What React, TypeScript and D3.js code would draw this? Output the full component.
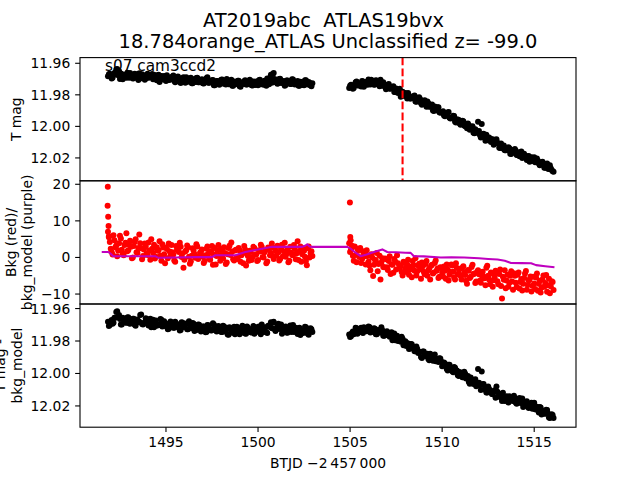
import React from 'react';
import * as d3 from 'd3';

// ---- data ----
// cadence set A
const leftTimes = [
  1491.85, 1491.95, 1492.05, 1492.15, 1492.25, 1492.35, 1492.45, 1492.55, 1492.65, 1492.75,
  1492.85, 1492.95, 1493.05, 1493.15, 1493.25, 1493.35, 1493.45, 1493.55, 1493.65, 1493.75,
  1493.85, 1493.95, 1494.05, 1494.15, 1494.25, 1494.35, 1494.45, 1494.55, 1494.65, 1494.75,
  1494.85, 1494.95, 1495.05, 1495.15, 1495.25, 1495.35, 1495.45, 1495.55, 1495.65, 1495.75,
  1495.85, 1495.95, 1496.05, 1496.15, 1496.25, 1496.35, 1496.45, 1496.55, 1496.65, 1496.75,
  1496.85, 1496.95, 1497.05, 1497.15, 1497.25, 1497.35, 1497.45, 1497.55, 1497.65, 1497.75,
  1497.85, 1497.95, 1498.05, 1498.15, 1498.25, 1498.35, 1498.45, 1498.55, 1498.65, 1498.75,
  1498.85, 1498.95, 1499.05, 1499.15, 1499.25, 1499.35, 1499.45, 1499.55, 1499.65, 1499.75,
  1499.85, 1499.95, 1500.05, 1500.15, 1500.25, 1500.35, 1500.45, 1500.55, 1500.65, 1500.75,
  1500.85, 1500.95, 1501.05, 1501.15, 1501.25, 1501.35, 1501.45, 1501.55, 1501.65, 1501.75,
  1501.85, 1501.95, 1502.05, 1502.15, 1502.25, 1502.35, 1502.45, 1502.55, 1502.65, 1502.75,
  1502.85, 1502.95,
];
const rightTimes = [
  1504.95, 1505.05, 1505.15, 1505.25, 1505.35, 1505.45, 1505.55, 1505.65, 1505.75, 1505.85,
  1505.95, 1506.05, 1506.15, 1506.25, 1506.35, 1506.45, 1506.55, 1506.65, 1506.75, 1506.85,
  1506.95, 1507.05, 1507.15, 1507.25, 1507.35, 1507.45, 1507.55, 1507.65, 1507.75, 1507.85,
  1507.95, 1508.05, 1508.15, 1508.25, 1508.35, 1508.45, 1508.55, 1508.65, 1508.75, 1508.85,
  1508.95, 1509.05, 1509.15, 1509.25, 1509.35, 1509.45, 1509.55, 1509.65, 1509.75, 1509.85,
  1509.95, 1510.05, 1510.15, 1510.25, 1510.35, 1510.45, 1510.55, 1510.65, 1510.75, 1510.85,
  1510.95, 1511.05, 1511.15, 1511.25, 1511.35, 1511.45, 1511.55, 1511.65, 1511.75, 1511.85,
  1511.95, 1512.05, 1512.15, 1512.25, 1512.35, 1512.45, 1512.55, 1512.65, 1512.75, 1512.85,
  1512.95, 1513.05, 1513.15, 1513.25, 1513.35, 1513.45, 1513.55, 1513.65, 1513.75, 1513.85,
  1513.95, 1514.05, 1514.15, 1514.25, 1514.35, 1514.45, 1514.55, 1514.65, 1514.75, 1514.85,
  1514.95, 1515.05, 1515.15, 1515.25, 1515.35, 1515.45, 1515.55, 1515.65, 1515.75, 1515.85,
  1515.95, 1516.05,
];
// cadence set B
const leftTimesB = [
  1491.9, 1492.0, 1492.1, 1492.2, 1492.3, 1492.4, 1492.5, 1492.6, 1492.7, 1492.8,
  1492.9, 1493.0, 1493.1, 1493.2, 1493.3, 1493.4, 1493.5, 1493.6, 1493.7, 1493.8,
  1493.9, 1494.0, 1494.1, 1494.2, 1494.3, 1494.4, 1494.5, 1494.6, 1494.7, 1494.8,
  1494.9, 1495.0, 1495.1, 1495.2, 1495.3, 1495.4, 1495.5, 1495.6, 1495.7, 1495.8,
  1495.9, 1496.0, 1496.1, 1496.2, 1496.3, 1496.4, 1496.5, 1496.6, 1496.7, 1496.8,
  1496.9, 1497.0, 1497.1, 1497.2, 1497.3, 1497.4, 1497.5, 1497.6, 1497.7, 1497.8,
  1497.9, 1498.0, 1498.1, 1498.2, 1498.3, 1498.4, 1498.5, 1498.6, 1498.7, 1498.8,
  1498.9, 1499.0, 1499.1, 1499.2, 1499.3, 1499.4, 1499.5, 1499.6, 1499.7, 1499.8,
  1499.9, 1500.0, 1500.1, 1500.2, 1500.3, 1500.4, 1500.5, 1500.6, 1500.7, 1500.8,
  1500.9, 1501.0, 1501.1, 1501.2, 1501.3, 1501.4, 1501.5, 1501.6, 1501.7, 1501.8,
  1501.9, 1502.0, 1502.1, 1502.2, 1502.3, 1502.4, 1502.5, 1502.6, 1502.7, 1502.8,
  1502.9,
];
const rightTimesB = [
  1505.0, 1505.1, 1505.2, 1505.3, 1505.4, 1505.5, 1505.6, 1505.7, 1505.8, 1505.9,
  1506.0, 1506.1, 1506.2, 1506.3, 1506.4, 1506.5, 1506.6, 1506.7, 1506.8, 1506.9,
  1507.0, 1507.1, 1507.2, 1507.3, 1507.4, 1507.5, 1507.6, 1507.7, 1507.8, 1507.9,
  1508.0, 1508.1, 1508.2, 1508.3, 1508.4, 1508.5, 1508.6, 1508.7, 1508.8, 1508.9,
  1509.0, 1509.1, 1509.2, 1509.3, 1509.4, 1509.5, 1509.6, 1509.7, 1509.8, 1509.9,
  1510.0, 1510.1, 1510.2, 1510.3, 1510.4, 1510.5, 1510.6, 1510.7, 1510.8, 1510.9,
  1511.0, 1511.1, 1511.2, 1511.3, 1511.4, 1511.5, 1511.6, 1511.7, 1511.8, 1511.9,
  1512.0, 1512.1, 1512.2, 1512.3, 1512.4, 1512.5, 1512.6, 1512.7, 1512.8, 1512.9,
  1513.0, 1513.1, 1513.2, 1513.3, 1513.4, 1513.5, 1513.6, 1513.7, 1513.8, 1513.9,
  1514.0, 1514.1, 1514.2, 1514.3, 1514.4, 1514.5, 1514.6, 1514.7, 1514.8, 1514.9,
  1515.0, 1515.1, 1515.2, 1515.3, 1515.4, 1515.5, 1515.6, 1515.7, 1515.8, 1515.9,
  1516.0,
];

// panel 1: T mag
const magLeft = [
  11.9683, 11.9666, 11.9696, 11.9675, 11.9658, 11.9636, 11.9650, 11.9665, 11.9702, 11.9673,
  11.9692, 11.9679, 11.9662, 11.9686, 11.9695, 11.9670, 11.9683, 11.9663, 11.9695, 11.9680,
  11.9705, 11.9672, 11.9692, 11.9683, 11.9668, 11.9699, 11.9687, 11.9686, 11.9719, 11.9681,
  11.9703, 11.9691, 11.9676, 11.9706, 11.9699, 11.9684, 11.9712, 11.9699, 11.9684, 11.9718,
  11.9705, 11.9689, 11.9724, 11.9697, 11.9711, 11.9692, 11.9726, 11.9710, 11.9694, 11.9721,
  11.9715, 11.9702, 11.9728, 11.9707, 11.9689, 11.9724, 11.9713, 11.9706, 11.9740, 11.9713,
  11.9731, 11.9717, 11.9703, 11.9728, 11.9734, 11.9708, 11.9724, 11.9705, 11.9743, 11.9719,
  11.9732, 11.9710, 11.9748, 11.9724, 11.9714, 11.9735, 11.9727, 11.9705, 11.9739, 11.9716,
  11.9737, 11.9720, 11.9708, 11.9733, 11.9729, 11.9711, 11.9743, 11.9711, 11.9692, 11.9724,
  11.9662, 11.9719, 11.9730, 11.9699, 11.9723, 11.9713, 11.9742, 11.9709, 11.9717, 11.9732,
  11.9702, 11.9728, 11.9728, 11.9712, 11.9743, 11.9721, 11.9737, 11.9707, 11.9731, 11.9718,
  11.9741, 11.9726,
];
const magLeftB = [
  11.9670, 11.9681, 11.9692, 11.9661, 11.9640, 11.9676, 11.9699, 11.9669, 11.9680, 11.9689,
  11.9660, 11.9692, 11.9675, 11.9696, 11.9667, 11.9682, 11.9706, 11.9678, 11.9670, 11.9693,
  11.9696, 11.9666, 11.9689, 11.9684, 11.9702, 11.9675, 11.9708, 11.9673, 11.9700, 11.9696,
  11.9681, 11.9713, 11.9689, 11.9705, 11.9692, 11.9677, 11.9720, 11.9712, 11.9693, 11.9725,
  11.9696, 11.9708, 11.9689, 11.9717, 11.9701, 11.9727, 11.9701, 11.9718, 11.9691, 11.9721,
  11.9712, 11.9726, 11.9704, 11.9695, 11.9723, 11.9717, 11.9707, 11.9739, 11.9718, 11.9713,
  11.9736, 11.9705, 11.9728, 11.9722, 11.9700, 11.9733, 11.9719, 11.9743, 11.9715, 11.9729,
  11.9711, 11.9746, 11.9722, 11.9732, 11.9707, 11.9735, 11.9725, 11.9712, 11.9741, 11.9719,
  11.9715, 11.9739, 11.9705, 11.9730, 11.9736, 11.9723, 11.9697, 11.9733, 11.9672, 11.9668,
  11.9700, 11.9722, 11.9727, 11.9698, 11.9725, 11.9716, 11.9738, 11.9709, 11.9720, 11.9731,
  11.9703, 11.9734, 11.9721, 11.9743, 11.9717, 11.9729, 11.9740, 11.9707, 11.9735, 11.9724,
  11.9746,
];
const magRight = [
  11.9757, 11.9736, 11.9762, 11.9737, 11.9716, 11.9741, 11.9729, 11.9712, 11.9748, 11.9718,
  11.9736, 11.9722, 11.9704, 11.9727, 11.9735, 11.9710, 11.9725, 11.9705, 11.9743, 11.9733,
  11.9764, 11.9736, 11.9761, 11.9756, 11.9746, 11.9782, 11.9775, 11.9771, 11.9812, 11.9781,
  11.9808, 11.9800, 11.9789, 11.9823, 11.9820, 11.9809, 11.9843, 11.9826, 11.9816, 11.9854,
  11.9846, 11.9835, 11.9875, 11.9853, 11.9874, 11.9862, 11.9903, 11.9887, 11.9878, 11.9911,
  11.9911, 11.9904, 11.9936, 11.9921, 11.9909, 11.9950, 11.9944, 11.9935, 11.9976, 11.9956,
  11.9981, 11.9974, 11.9967, 11.9999, 12.0012, 11.9993, 12.0016, 11.9999, 12.0044, 12.0027,
  11.9970, 12.0054, 11.9985, 12.0046, 12.0091, 12.0074, 12.0071, 12.0099, 12.0098, 12.0084,
  12.0082, 12.0109, 12.0137, 12.0127, 12.0122, 12.0152, 12.0152, 12.0139, 12.0175, 12.0159,
  12.0144, 12.0181, 12.0165, 12.0185, 12.0201, 12.0174, 12.0196, 12.0190, 12.0224, 12.0196,
  12.0208, 12.0228, 12.0203, 12.0235, 12.0235, 12.0225, 12.0263, 12.0247, 12.0269, 12.0246,
  12.0276, 12.0288,
];
const magRightB = [
  11.9742, 11.9749, 11.9756, 11.9721, 11.9740, 11.9728, 11.9747, 11.9715, 11.9725, 11.9733,
  11.9703, 11.9734, 11.9716, 11.9736, 11.9707, 11.9723, 11.9745, 11.9723, 11.9720, 11.9749,
  11.9757, 11.9732, 11.9760, 11.9759, 11.9782, 11.9760, 11.9789, 11.9762, 11.9796, 11.9798,
  11.9788, 11.9824, 11.9804, 11.9824, 11.9815, 11.9805, 11.9844, 11.9841, 11.9827, 11.9863,
  11.9839, 11.9856, 11.9842, 11.9876, 11.9867, 11.9900, 11.9874, 11.9898, 11.9878, 11.9914,
  11.9911, 11.9931, 11.9915, 11.9912, 11.9946, 11.9945, 11.9933, 11.9971, 11.9957, 11.9959,
  11.9989, 11.9965, 11.9995, 11.9996, 11.9981, 12.0021, 12.0009, 12.0040, 12.0019, 12.0040,
  12.0029, 12.0071, 12.0054, 12.0071, 12.0053, 12.0088, 12.0086, 12.0080, 12.0116, 12.0101,
  12.0104, 12.0135, 12.0108, 12.0140, 12.0152, 12.0144, 12.0133, 12.0174, 12.0150, 12.0166,
  12.0154, 12.0181, 12.0190, 12.0159, 12.0191, 12.0186, 12.0213, 12.0188, 12.0204, 12.0220,
  12.0196, 12.0225, 12.0218, 12.0246, 12.0227, 12.0245, 12.0263, 12.0236, 12.0270, 12.0266,
  12.0284,
];

// panel 3: T mag - bkg_model
const magCorrLeft = [
  11.9682, 11.9701, 11.9671, 11.9688, 11.9657, 11.9617, 11.9640, 11.9698, 11.9657, 11.9678,
  11.9687, 11.9654, 11.9693, 11.9673, 11.9663, 11.9706, 11.9668, 11.9681, 11.9636, 11.9699,
  11.9685, 11.9665, 11.9704, 11.9663, 11.9687, 11.9715, 11.9673, 11.9697, 11.9702, 11.9669,
  11.9685, 11.9707, 11.9695, 11.9725, 11.9680, 11.9708, 11.9718, 11.9691, 11.9704, 11.9735,
  11.9685, 11.9714, 11.9697, 11.9728, 11.9679, 11.9710, 11.9689, 11.9738, 11.9730, 11.9698,
  11.9716, 11.9734, 11.9711, 11.9746, 11.9702, 11.9721, 11.9736, 11.9690, 11.9713, 11.9741,
  11.9707, 11.9724, 11.9745, 11.9710, 11.9730, 11.9760, 11.9716, 11.9741, 11.9723, 11.9758,
  11.9712, 11.9733, 11.9750, 11.9706, 11.9725, 11.9755, 11.9719, 11.9738, 11.9747, 11.9708,
  11.9728, 11.9743, 11.9710, 11.9759, 11.9716, 11.9731, 11.9746, 11.9706, 11.9710, 11.9722,
  11.9682, 11.9739, 11.9706, 11.9726, 11.9699, 11.9732, 11.9715, 11.9748, 11.9736, 11.9705,
  11.9727, 11.9744, 11.9719, 11.9757, 11.9718, 11.9739, 11.9750, 11.9712, 11.9734, 11.9761,
  11.9722, 11.9745,
];
const magCorrLeftB = [
  11.9708, 11.9679, 11.9693, 11.9657, 11.9622, 11.9650, 11.9664, 11.9698, 11.9669, 11.9686,
  11.9655, 11.9691, 11.9677, 11.9663, 11.9700, 11.9672, 11.9684, 11.9640, 11.9695, 11.9689,
  11.9660, 11.9694, 11.9680, 11.9716, 11.9669, 11.9689, 11.9706, 11.9698, 11.9665, 11.9710,
  11.9678, 11.9698, 11.9727, 11.9689, 11.9706, 11.9718, 11.9682, 11.9714, 11.9701, 11.9732,
  11.9687, 11.9710, 11.9692, 11.9728, 11.9697, 11.9722, 11.9694, 11.9723, 11.9730, 11.9700,
  11.9741, 11.9711, 11.9717, 11.9745, 11.9703, 11.9727, 11.9734, 11.9698, 11.9710, 11.9738,
  11.9720, 11.9745, 11.9706, 11.9741, 11.9719, 11.9762, 11.9728, 11.9749, 11.9712, 11.9737,
  11.9721, 11.9759, 11.9717, 11.9742, 11.9753, 11.9710, 11.9729, 11.9746, 11.9725, 11.9756,
  11.9715, 11.9729, 11.9735, 11.9699, 11.9745, 11.9715, 11.9750, 11.9712, 11.9685, 11.9688,
  11.9727, 11.9723, 11.9693, 11.9719, 11.9755, 11.9731, 11.9711, 11.9749, 11.9721, 11.9744,
  11.9702, 11.9740, 11.9728, 11.9724, 11.9763, 11.9735, 11.9746, 11.9716, 11.9756, 11.9742,
  11.9728,
];
const magCorrRight = [
  11.9760, 11.9770, 11.9742, 11.9750, 11.9721, 11.9746, 11.9725, 11.9746, 11.9715, 11.9732,
  11.9739, 11.9714, 11.9745, 11.9731, 11.9724, 11.9758, 11.9732, 11.9746, 11.9733, 11.9768,
  11.9761, 11.9750, 11.9774, 11.9746, 11.9770, 11.9795, 11.9767, 11.9792, 11.9804, 11.9786,
  11.9805, 11.9830, 11.9816, 11.9846, 11.9820, 11.9848, 11.9863, 11.9850, 11.9867, 11.9898,
  11.9865, 11.9891, 11.9883, 11.9911, 11.9878, 11.9906, 11.9894, 11.9925, 11.9923, 11.9906,
  11.9927, 11.9949, 11.9938, 11.9973, 11.9946, 11.9969, 11.9987, 11.9960, 11.9984, 12.0011,
  11.9991, 12.0011, 12.0023, 12.0002, 12.0024, 12.0053, 12.0025, 12.0051, 12.0044, 12.0078,
  11.9972, 12.0072, 11.9988, 12.0065, 12.0087, 12.0117, 12.0095, 12.0115, 12.0128, 12.0104,
  12.0081, 12.0142, 12.0126, 12.0169, 12.0142, 12.0155, 12.0169, 12.0141, 12.0158, 12.0169,
  12.0151, 12.0187, 12.0164, 12.0182, 12.0154, 12.0184, 12.0175, 12.0205, 12.0200, 12.0181,
  12.0202, 12.0220, 12.0205, 12.0240, 12.0209, 12.0232, 12.0246, 12.0223, 12.0247, 12.0274,
  12.0251, 12.0274,
];
const magCorrRightB = [
  11.9775, 11.9750, 11.9759, 11.9718, 11.9756, 11.9737, 11.9718, 11.9751, 11.9723, 11.9740,
  11.9710, 11.9747, 11.9734, 11.9721, 11.9759, 11.9733, 11.9748, 11.9716, 11.9767, 11.9765,
  11.9740, 11.9765, 11.9755, 11.9796, 11.9753, 11.9777, 11.9800, 11.9799, 11.9774, 11.9826,
  11.9801, 11.9814, 11.9850, 11.9819, 11.9844, 11.9863, 11.9834, 11.9874, 11.9868, 11.9905,
  11.9864, 11.9892, 11.9878, 11.9919, 11.9892, 11.9921, 11.9883, 11.9916, 11.9929, 11.9907,
  11.9955, 11.9933, 11.9946, 11.9982, 11.9947, 11.9979, 11.9993, 11.9964, 11.9982, 12.0016,
  12.0005, 12.0023, 11.9990, 12.0031, 12.0015, 12.0064, 12.0037, 12.0065, 12.0035, 12.0066,
  12.0057, 12.0102, 12.0067, 12.0099, 12.0117, 12.0080, 12.0105, 12.0127, 12.0112, 12.0149,
  12.0113, 12.0138, 12.0150, 12.0119, 12.0169, 12.0141, 12.0179, 12.0158, 12.0166, 12.0138,
  12.0180, 12.0178, 12.0151, 12.0165, 12.0206, 12.0186, 12.0171, 12.0213, 12.0190, 12.0217,
  12.0180, 12.0222, 12.0215, 12.0207, 12.0253, 12.0231, 12.0248, 12.0225, 12.0271, 12.0264,
  12.0256,
];

// panel 2: background (red)
const bkgLeft = [
  7.0,
  4.2, 1.5, 6.1, 2.8, 0.3, 3.9, 5.2, 1.1, 3.4, 6.6,
  2.0, 4.6, -0.2, 3.1, 5.0, 1.2, 6.3, 2.5, 0.4, 3.8,
  1.0, 4.1, -0.6, 2.4, 3.5, 0.2, 1.8, 4.4, -0.9, 2.7,
  -1.6, 2.3, 3.8, 0.5, 1.4, -0.8, 3.1, 1.9, 4.0, 0.1,
  -2.8, 1.6, 3.3, 0.2, -1.1, 2.5, 0.9, 3.6, -0.4, 1.3,
  2.2, -1.5, 0.6, 3.0, -0.3, 1.7, -2.0, 2.6, 0.4, 3.4,
  -0.9, 1.5, 2.8, -1.8, 0.9, 3.2, 4.1, -0.5, 1.9, 0.0,
  2.6, -1.2, 1.1, 3.1, -2.2, 0.4, 1.8, -0.7, 2.9, 0.8,
  -1.0, 2.0, 3.5, 0.1, 1.4, -1.6, 2.7, 0.6, 3.8, -0.4,
  1.8, 3.2, -0.8, 2.4, 0.3, 4.0, 1.0, -1.3, 2.9, 0.7,
  3.4, -0.5, 4.4, 1.6, -1.2, 2.5, 0.2, -2.1, 3.0, 1.2, 0.4,
];
const bkgLeftB = [
  5.5, 2.4, 0.8, 4.7, 3.3, 1.9, 5.9, 2.1, 0.6, 4.0,
  1.7, 3.5, 2.9, 0.0, 4.3, 1.4, 2.6, 3.9, -0.5, 2.2,
  3.0, 0.7, 1.9, 5.0, 1.2, -0.3, 2.8, 2.0, 0.5, 3.6,
  0.9, 2.7, -0.2, 1.6, 3.4, 0.8, -1.2, 2.2, 1.5, 2.9,
  1.1, -0.6, 2.0, 2.8, -1.7, 0.5, 1.8, -0.1, 3.0, 0.3,
  1.5, 0.2, -1.0, 2.4, 1.0, -0.6, 3.1, 0.8, -1.9, 1.9,
  0.5, 2.3, -0.3, 1.2, -1.4, 2.6, 0.7, 1.6, -0.8, 2.1,
  -0.4, 1.9, 0.6, -1.6, 2.2, 1.0, -0.9, 1.5, 0.1, 2.6,
  0.8, -0.7, 1.6, 2.9, 0.0, 1.9, -1.1, 2.3, 1.2, 0.4,
  2.6, 0.5, 1.4, -0.4, 3.5, 1.7, 0.2, 2.1, -0.9, 1.3,
  0.6, 2.3, 1.1, -0.7, 3.0, 0.9, 1.8, -1.0, 2.5, 0.0, 1.7,
];
const bkgRight = [
  3.9, 2.2, 0.5, 3.0, -1.3, 1.8, 2.6, -0.4, 1.1, -1.9,
  0.4, -2.2, 0.9, -5.1, -0.6, 1.2, -1.8, -6.0, -0.2, -2.7,
  -0.5, -3.4, 0.3, -1.9, -4.2, -1.1, 0.6, -3.0, -2.3, -4.9,
  -1.5, -4.0, -0.6, -3.3, -5.4, -2.1, -0.2, -3.8, -1.7, -5.8,
  -2.4, -4.6, -1.0, -3.5, -6.0, -2.0, -4.1, -0.8, -3.0, -5.3,
  -2.8, -5.2, -3.6, -1.9, -6.3, -4.0, -2.2, -5.5, -1.6, -4.6,
  -3.1, -6.0, -2.4, -4.8, -7.2, -3.6, -5.3, -2.0, -4.4, -6.6,
  -3.5, -6.4, -4.9, -5.2, -7.6, -2.3, -6.0, -4.1, -8.0, -5.5,
  -4.2, -7.3, -3.3, -11.2, -6.1, -8.4, -4.7, -6.9, -3.8, -8.8,
  -5.0, -8.1, -4.1, -6.7, -9.0, -5.6, -3.7, -7.5, -6.0, -9.3,
  -5.3, -8.6, -4.4, -7.2, -9.6, -6.0, -8.0, -4.8, -7.6, -9.8,
  -6.5, -8.9,
];
const bkgRightB = [
  1.5, 3.2, -0.9, 0.7, 2.4, 0.1, -1.5, 1.7, 0.3, 2.0,
  -1.2, -3.5, 0.0, -2.0, -0.9, -3.8, 0.5, -1.4, -2.6, -0.3,
  -2.7, -1.0, -4.5, -2.0, -0.4, -3.3, -1.6, -2.9, -4.0, -1.2,
  -3.0, -1.9, -4.7, -2.5, -1.0, -3.6, -4.9, -2.2, -3.2, -1.4,
  -3.9, -1.8, -5.0, -3.0, -2.3, -4.4, -1.5, -3.6, -5.6, -2.7,
  -4.1, -2.5, -5.8, -3.3, -4.7, -1.9, -3.9, -6.0, -2.9, -4.3,
  -5.0, -2.8, -4.1, -6.4, -3.4, -5.6, -2.6, -4.6, -7.0, -3.9,
  -4.6, -6.9, -3.9, -5.7, -2.8, -5.0, -7.3, -4.4, -6.2, -3.6,
  -6.5, -4.5, -7.8, -5.3, -3.5, -6.3, -8.0, -5.0, -6.6, -4.3,
  -6.9, -4.7, -8.5, -5.9, -7.2, -4.4, -8.8, -6.3, -5.2, -7.7,
  -7.1, -5.5, -9.1, -6.4, -8.2, -4.9, -7.0, -9.4, -5.8, -7.9, -6.7,
];
const bkgSpikeTimes = [1491.83, 1491.84, 1491.86, 1491.88, 1491.9, 1504.99, 1505.01, 1505.03];
const bkgSpikeValues = [14.1, 19.3, 11.1, 8.6, 5.8, 15.0, 5.6, 4.7];

// panel 2: background model (purple)
const bkgModelTimes = [
  1491.51, 1491.87, 1492.0, 1492.14, 1493.0, 1494.41, 1494.59, 1495.5, 1496.5, 1497.5,
  1497.68, 1498.77, 1499.31, 1500.0, 1500.77, 1501.5, 1502.4, 1502.55, 1502.67, 1502.8,
  1502.94, 1503.5, 1504.0, 1504.5, 1504.85, 1505.0, 1505.3, 1505.57, 1505.9, 1506.3,
  1506.75, 1507.02, 1507.5, 1508.0, 1508.29, 1508.47, 1509.0, 1509.93, 1510.5, 1511.2,
  1512.0, 1512.5, 1513.01, 1513.4, 1513.74, 1514.3, 1514.83, 1515.1, 1515.6, 1516.1,
];
const bkgModelValues = [
  1.5, 1.5, 1.0, 0.35, 0.35, 0.35, -0.1, 0.0, 0.1, 0.1,
  0.6, 0.6, 1.5, 2.2, 2.9, 2.9, 2.9, 3.2, 3.6, 3.0,
  2.9, 2.9, 2.9, 2.9, 2.9, 2.5, 1.3, 0.35, 0.8, 1.5,
  2.2, 1.5, 1.4, 1.3, 1.25, 0.35, 0.3, 0.0, 0.05, 0.0,
  -0.2, -0.4, -0.55, -0.9, -1.5, -1.55, -1.6, -2.1, -2.4, -2.7,
];

const markerTime = 1507.85;
const xTicks = [1495, 1500, 1505, 1510, 1515];
const magTicks = [11.96, 11.98, 12.0, 12.02];
const bkgTicks = [-10, 0, 10, 20];
const titleLines = ['AT2019abc  ATLAS19bvx', '18.784orange_ATLAS Unclassified z= -99.0'];
const sectorLabel = 's07 cam3ccd2';
const xLabel = 'BTJD \u22122\u2009457\u2009000';

const FONT = 'DejaVu Sans, Liberation Sans, sans-serif';

export default function App() {
  const W = 640;
  const H = 480;
  const L = 80;
  const R = 576;
  const T0 = 57.6;
  const PH = 123.2;
  const tickLen = 4.86;
  const tickFs = 13.89;

  const x = d3.scaleLinear().domain([1490.33, 1517.27]).range([L, R]);
  const y1 = d3.scaleLinear().domain([11.9564, 12.0345]).range([T0, T0 + PH]);
  const y2 = d3.scaleLinear().domain([-12.72, 20.95]).range([T0 + 2 * PH, T0 + PH]);
  const y3 = d3.scaleLinear().domain([11.9572, 12.0331]).range([T0 + 2 * PH, T0 + 3 * PH]);

  const fmtMag = d3.format('.2f');
  const fmtBkg = d3.format('d');

  const modelPath = d3
    .line<number>()
    .x((_, i) => x(bkgModelTimes[i]))
    .y((d) => y2(d))(bkgModelValues) as string;

  const r = 3.0;

  const dots = (times: number[], vals: number[], ys: any, color: string, key: string) =>
    times.map((t, i) => <circle key={key + i} cx={x(t)} cy={ys(vals[i])} r={r} fill={color} />);

  const yAxis = (scale: any, ticks: number[], fmt: (n: number) => string, key: string) => (
    <g key={key}>
      {ticks.map((t) => (
        <g key={key + t}>
          <line x1={L - tickLen} x2={L} y1={scale(t)} y2={scale(t)} stroke="#000" strokeWidth={1.1} />
          <text x={L - 2 * tickLen} y={scale(t) + 5} textAnchor="end" fontSize={tickFs} fill="#000">
            {fmt(t)}
          </text>
        </g>
      ))}
    </g>
  );

  const clip = (id: string, i: number) => (
    <clipPath id={id}>
      <rect x={L} y={T0 + i * PH} width={R - L} height={PH} />
    </clipPath>
  );

  return (
    <svg
      width={W}
      height={H}
      viewBox={`0 0 ${W} ${H}`}
      style={{ position: 'absolute', left: 0, top: 0, background: '#fff' }}
      fontFamily={FONT}
    >
      <rect x={0} y={0} width={W} height={H} fill="#fff" />
      <defs>
        {clip('c1', 0)}
        {clip('c2', 1)}
        {clip('c3', 2)}
      </defs>

      {/* title */}
      <text x={323.5} y={27.3} textAnchor="middle" fontSize={19.44} style={{ whiteSpace: 'pre' }}>
        {titleLines[0]}
      </text>
      <text x={328} y={48.3} textAnchor="middle" fontSize={19.44} style={{ whiteSpace: 'pre' }}>
        {titleLines[1]}
      </text>

      {/* panel 1 */}
      <g clipPath="url(#c1)">
        {dots(leftTimes, magLeft, y1, '#000', 'a')}
        {dots(leftTimesB, magLeftB, y1, '#000', 'aB')}
        {dots(rightTimes, magRight, y1, '#000', 'b')}
        {dots(rightTimesB, magRightB, y1, '#000', 'bB')}
        <line
          x1={x(markerTime)}
          x2={x(markerTime)}
          y1={T0}
          y2={T0 + PH}
          stroke="#ff0000"
          strokeWidth={2.08}
          strokeDasharray="7.7 3.3"
        />
      </g>
      <text x={105} y={70.5} fontSize={15.3} fill="#000">
        {sectorLabel}
      </text>

      {/* panel 2 */}
      <g clipPath="url(#c2)">
        {dots(leftTimes, bkgLeft, y2, '#ff0000', 'c')}
        {dots(leftTimesB, bkgLeftB, y2, '#ff0000', 'cB')}
        {dots(rightTimes, bkgRight, y2, '#ff0000', 'd')}
        {dots(rightTimesB, bkgRightB, y2, '#ff0000', 'dB')}
        {dots(bkgSpikeTimes, bkgSpikeValues, y2, '#ff0000', 'e')}
        <path d={modelPath} fill="none" stroke="#bf00bf" strokeWidth={2.08} strokeLinejoin="round" />
      </g>

      {/* panel 3 */}
      <g clipPath="url(#c3)">
        {dots(leftTimes, magCorrLeft, y3, '#000', 'f')}
        {dots(leftTimesB, magCorrLeftB, y3, '#000', 'fB')}
        {dots(rightTimes, magCorrRight, y3, '#000', 'g')}
        {dots(rightTimesB, magCorrRightB, y3, '#000', 'gB')}
      </g>

      {/* frames */}
      {[0, 1, 2].map((i) => (
        <rect
          key={'fr' + i}
          x={L}
          y={T0 + i * PH}
          width={R - L}
          height={PH}
          fill="none"
          stroke="#000"
          strokeWidth={1.1}
        />
      ))}

      {/* y axes */}
      {yAxis(y1, magTicks, fmtMag, 'y1')}
      {yAxis(y2, bkgTicks, fmtBkg, 'y2')}
      {yAxis(y3, magTicks, fmtMag, 'y3')}

      {/* x axis */}
      {xTicks.map((t) => (
        <g key={'xt' + t}>
          <line x1={x(t)} x2={x(t)} y1={T0 + 3 * PH} y2={T0 + 3 * PH + tickLen} stroke="#000" strokeWidth={1.1} />
          <text x={x(t)} y={447} textAnchor="middle" fontSize={tickFs}>
            {String(t)}
          </text>
        </g>
      ))}
      <text x={328} y={467.5} textAnchor="middle" fontSize={tickFs}>
        {xLabel}
      </text>

      {/* y labels */}
      <text transform={`translate(21, ${T0 + PH / 2}) rotate(-90)`} textAnchor="middle" fontSize={tickFs}>
        T mag
      </text>
      <text transform={`translate(15.5, ${T0 + 1.5 * PH}) rotate(-90)`} textAnchor="middle" fontSize={tickFs}>
        Bkg (red)/
      </text>
      <text transform={`translate(32.2, ${T0 + 1.5 * PH}) rotate(-90)`} textAnchor="middle" fontSize={tickFs}>
        bkg_model (purple)
      </text>
      <text transform={`translate(5.3, ${T0 + 2.5 * PH}) rotate(-90)`} textAnchor="middle" fontSize={tickFs}>
        T mag -
      </text>
      <text transform={`translate(22, ${T0 + 2.5 * PH}) rotate(-90)`} textAnchor="middle" fontSize={tickFs}>
        bkg_model
      </text>
    </svg>
  );
}
